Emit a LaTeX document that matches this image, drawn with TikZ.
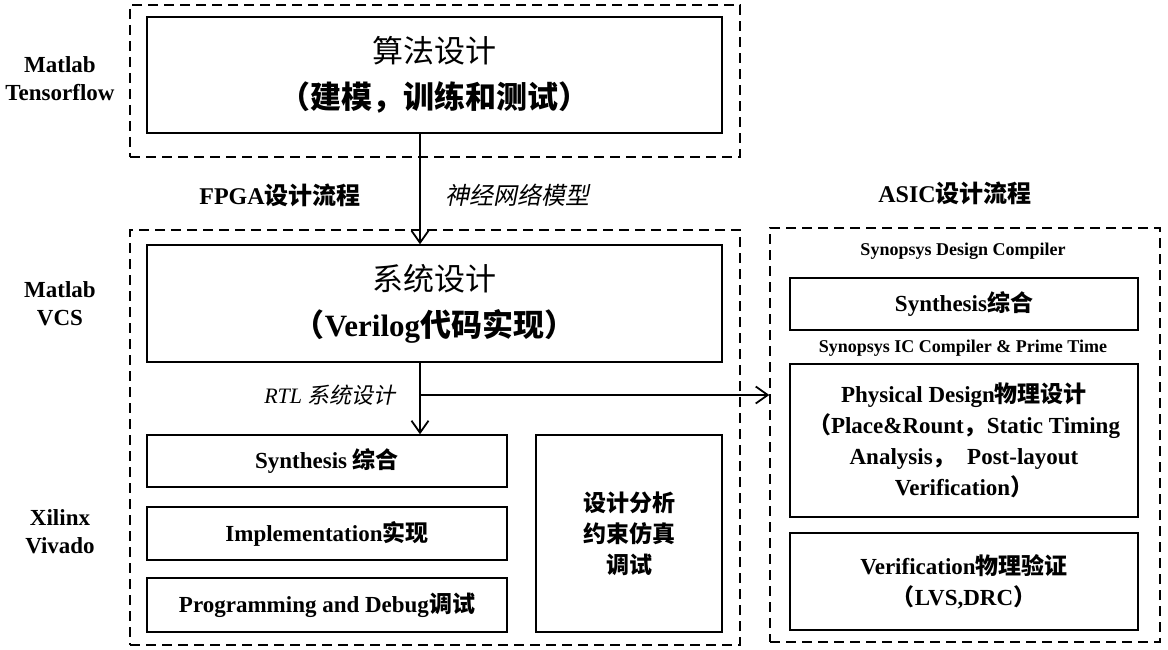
\documentclass[tikz,border=0pt]{standalone}
\usepackage{fontspec}
\setmainfont{Liberation Serif}
\newfontfamily\cjk{Noto Sans CJK SC}
\newfontfamily\cjkit[FakeSlant=0.2]{Noto Sans CJK SC}
\newcommand{\zh}[1]{{\cjk #1}}
\newcommand{\zhit}[1]{{\cjkit #1}}
\usepackage{tikz}
\usetikzlibrary{arrows.meta,positioning}

\begin{document}
\begin{tikzpicture}[
  x=1pt, y=-1pt,
  box/.style={rectangle, draw=black, line width=1.4pt, inner sep=0pt,
    align=center, font=\fontsize{23}{31}\selectfont\bfseries},
  bigbox/.style={box, minimum width=575pt,
    font=\fontsize{31}{46}\selectfont},
  dbox/.style={rectangle, draw=black, line width=1.4pt,
    dash pattern=on 10pt off 6pt, inner sep=0pt},
  tool/.style={align=center, font=\fontsize{23}{28}\selectfont\bfseries},
  small/.style={font=\fontsize{18}{20}\selectfont\bfseries},
  arr/.style={-{Straight Barb[length=12pt,width=17pt]}, line width=1.8pt}
]
  \useasboundingbox (0,0) rectangle (1168,650);

  \node[dbox, minimum width=610pt, minimum height=152pt] (topd)  at (435,81) {};
  \node[dbox, minimum width=610pt, minimum height=415pt] (fpgad) at (435,437.5) {};
  \node[dbox, minimum width=390pt, minimum height=414pt] (asicd) at (965,435) {};

  \node[bigbox, minimum height=116pt] (algo) at (434.5,75)
    {\zh{算法设计}\\\zh{\bfseries （建模，训练和测试）}};
  \node[bigbox, minimum height=117pt] (sys) at (434.5,303.5)
    {\zh{系统设计}\\\bfseries\zh{（}Verilog\zh{代码实现）}};

  \node[box, minimum width=360pt, minimum height=52pt] (synth) at (327,461)
    {Synthesis \zh{综合}};
  \node[box, minimum width=360pt, minimum height=53pt] (impl)  at (327,533.5)
    {Implementation\zh{实现}};
  \node[box, minimum width=360pt, minimum height=54pt] (prog)  at (327,605)
    {Programming and Debug\zh{调试}};
  \node[box, minimum width=186pt, minimum height=197pt] (anal)  at (629,533.5)
    {\zh{设计分析}\\\zh{约束仿真}\\\zh{调试}};

  \node[box, minimum width=348pt, minimum height=52pt]  (asyn)  at (964,304)
    {Synthesis\zh{综合}};
  \node[box, minimum width=348pt, minimum height=153pt] (phys)  at (964,440.5)
    {Physical Design\zh{物理设计}\\
     \zh{（}Place\&Rount\zh{，}Static Timing\\
     Analysis\zh{，}\ \ Post-layout\\
     Verification\zh{）}};
  \node[box, minimum width=348pt, minimum height=97pt]  (verif) at (964,581.5)
    {Verification\zh{物理验证}\\\zh{（}LVS,DRC\zh{）}};

  \node[small] (dc)  at (963,251) {Synopsys Design Compiler};
  \node[small] (icc) at (963,348) {Synopsys IC Compiler \& Prime Time};

  \node[tool] (tf)  at (60,79)  {Matlab\\Tensorflow};
  \node[tool] (vcs) at (60,304) {Matlab\\VCS};
  \node[tool] (viv) at (60,532) {Xilinx\\Vivado};

  \node[tool, font=\fontsize{24}{28}\selectfont\bfseries] (fpga) at (280,195) {FPGA\zh{设计流程}};
  \node[tool, font=\fontsize{24}{28}\selectfont\bfseries] (asic) at (955,193) {ASIC\zh{设计流程}};
  \node[font=\fontsize{24}{26}\selectfont] (nn) at (517,195) {\zhit{神经网络模型}};
  \node[font=\fontsize{22}{24}\selectfont\itshape] (rtl) at (330,395) {RTL \zhit{系统设计}};

  \coordinate (ax) at (420,0);
  \coordinate (br) at (420,395);

  \draw[arr] (algo.south -| ax) -- (sys.north -| ax);
  \draw[arr] (sys.south -| ax) -- (synth.north -| ax);
  \draw[arr] (br) -- (br -| asicd.west);
\end{tikzpicture}
\end{document}
